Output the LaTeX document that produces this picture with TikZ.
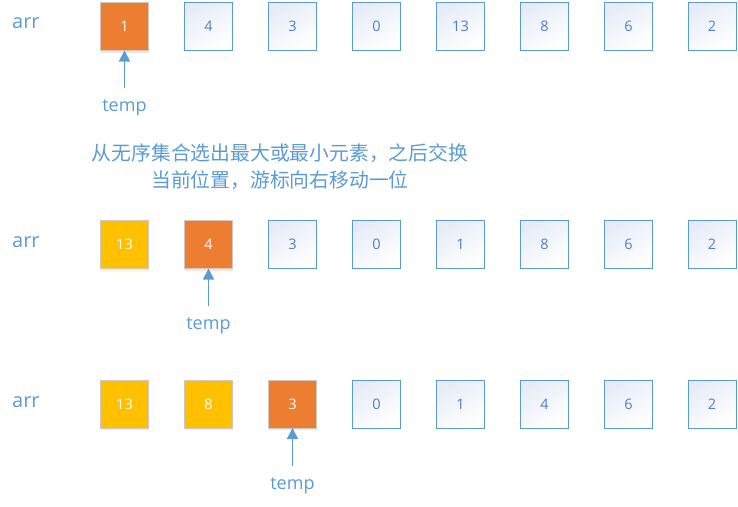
\documentclass[tikz,border=0pt]{standalone}
\usepackage{fontspec}
\setmainfont{Open Sans}
\newfontfamily\cjk{Noto Sans CJK SC}
\usetikzlibrary{arrows.meta,shadows}
\definecolor{lblue}{HTML}{5B9BD5}
\definecolor{numblue}{HTML}{4F7FC4}
\definecolor{boxtop}{HTML}{E6ECF7}
\definecolor{orng}{HTML}{ED7D31}
\definecolor{yel}{HTML}{FFC000}
\definecolor{cborder}{HTML}{D0C8C0}
\tikzset{
  cell/.style={minimum width=48pt,minimum height=48pt,inner sep=0pt,outer sep=0pt,
    font=\fontsize{14.5}{17}\selectfont},
  plain/.style={cell,draw=lblue,line width=1pt,top color=boxtop,bottom color=white,
    shading angle=30,text=numblue},
  hot/.style={cell,draw=cborder,line width=0.8pt,fill=orng,text=white,
    drop shadow={shadow xshift=0pt,shadow yshift=-2pt,fill=orng!35,opacity=0.6}},
  done/.style={cell,draw=cborder,line width=0.8pt,fill=yel,text=white,
    drop shadow={shadow xshift=0pt,shadow yshift=-2pt,fill=yel!40,opacity=0.6}},
  lbl/.style={text=lblue,font=\fontsize{20}{24}\selectfont,inner sep=0pt},
  tmp/.style={text=lblue,font=\fontsize{18}{21}\selectfont,inner sep=0pt},
  ptr/.style={draw=lblue,line width=1.6pt,-{Triangle[length=11pt,width=11pt]}},
  note/.style={text=lblue,font=\cjk\fontsize{19.8}{27}\selectfont,inner sep=0pt,align=center}
}
\begin{document}
\begin{tikzpicture}[x=1pt,y=-1pt]
\useasboundingbox (0,0) rectangle (738,506);
% row 1
\node[lbl,anchor=west] (arrA) at (12,23) {arr};
\node[hot]   (a1) at (124.5,26.5) {1};
\node[plain] (a2) at (208.5,26.5) {4};
\node[plain] (a3) at (292.5,26.5) {3};
\node[plain] (a4) at (376.5,26.5) {0};
\node[plain] (a5) at (460.5,26.5) {13};
\node[plain] (a6) at (544.5,26.5) {8};
\node[plain] (a7) at (628.5,26.5) {6};
\node[plain] (a8) at (712,26.5) {2};
\node[tmp] (tA) at (124.5,108) {temp};
\coordinate (pA) at (124.5,88);
\draw[ptr] (pA) -- (a1.south);
% note
\node[note] (note) at (280,167) {从无序集合选出最大或最小元素，之后交换\\当前位置，游标向右移动一位};
% row 2
\node[lbl,anchor=west] (arrB) at (12,242) {arr};
\node[done]  (b1) at (124.5,244.5) {13};
\node[hot]   (b2) at (208.5,244.5) {4};
\node[plain] (b3) at (292.5,244.5) {3};
\node[plain] (b4) at (376.5,244.5) {0};
\node[plain] (b5) at (460.5,244.5) {1};
\node[plain] (b6) at (544.5,244.5) {8};
\node[plain] (b7) at (628.5,244.5) {6};
\node[plain] (b8) at (712,244.5) {2};
\node[tmp] (tB) at (208.5,326) {temp};
\coordinate (pB) at (208.5,306);
\draw[ptr] (pB) -- (b2.south);
% row 3
\node[lbl,anchor=west] (arrC) at (12,402) {arr};
\node[done]  (c1) at (124.5,404) {13};
\node[done]  (c2) at (208.5,404) {8};
\node[hot]   (c3) at (292.5,404) {3};
\node[plain] (c4) at (376.5,404) {0};
\node[plain] (c5) at (460.5,404) {1};
\node[plain] (c6) at (544.5,404) {4};
\node[plain] (c7) at (628.5,404) {6};
\node[plain] (c8) at (712,404) {2};
\node[tmp] (tC) at (292.5,486) {temp};
\coordinate (pC) at (292.5,466);
\draw[ptr] (pC) -- (c3.south);
\end{tikzpicture}
\end{document}
